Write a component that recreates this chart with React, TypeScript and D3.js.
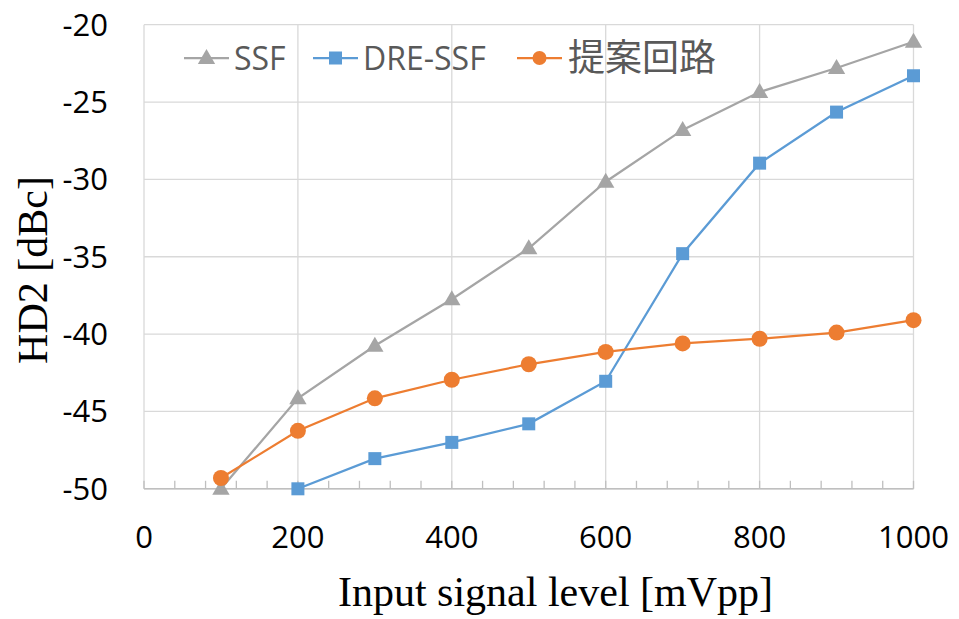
import React from "react";
import * as d3 from "d3";

const xValues = [100, 200, 300, 400, 500, 600, 700, 800, 900, 1000];
const ssf = [-50, -44.15, -40.75, -37.75, -34.45, -30.15, -26.8, -24.35, -22.8, -21.1];
const dreX = [200, 300, 400, 500, 600, 700, 800, 900, 1000];
const dreSsf = [-50, -48.05, -47.0, -45.8, -43.05, -34.8, -28.95, -25.65, -23.3];
const proposed = [-49.3, -46.25, -44.15, -42.95, -41.95, -41.15, -40.6, -40.3, -39.9, -39.1];
const xTicks = [0, 200, 400, 600, 800, 1000];
const yTicks = [-20, -25, -30, -35, -40, -45, -50];
const seriesNames = ["SSF", "DRE-SSF", "提案回路"];

const W = 959, H = 619;
const L = 144, R = 913.5, T = 24.7, B = 488.8;
const GRAY = "#A5A5A5", BLUE = "#5B9BD5", ORANGE = "#ED7D31";

export default function App() {
  const x = d3.scaleLinear().domain([0, 1000]).range([L, R]);
  const y = d3.scaleLinear().domain([-50, -20]).range([B, T]);
  const minor = d3.range(0, 1001, 40);
  const line = d3.line<[number, number]>().x(d => x(d[0])).y(d => y(d[1]));
  const ssfPts: [number, number][] = xValues.map((v, i) => [v, ssf[i]]);
  const drePts: [number, number][] = dreX.map((v, i) => [v, dreSsf[i]]);
  const propPts: [number, number][] = xValues.map((v, i) => [v, proposed[i]]);
  const tri = d3.symbol(d3.symbolTriangle, 130)();
  const sq = (cx: number, cy: number, c: string) => (
    <rect x={cx - 6.5} y={cy - 6.5} width={13} height={13} fill={c} />
  );
  const tickFont = "'Open Sans', sans-serif";
  const serif = "'Liberation Serif', 'DejaVu Serif', serif";
  return (
    <svg width={W} height={H} style={{ position: "absolute", left: 0, top: 0, background: "#fff" }}>
      {yTicks.map(t => (
        <line key={"gy" + t} x1={L} x2={R} y1={y(t)} y2={y(t)} stroke="#d9d9d9" strokeWidth={1.3} />
      ))}
      {xTicks.map(t => (
        <line key={"gx" + t} x1={x(t)} x2={x(t)} y1={T} y2={B} stroke="#d9d9d9" strokeWidth={1.3} />
      ))}
      {minor.map(t => (
        <line key={"m" + t} x1={x(t)} x2={x(t)} y1={B - 8} y2={B} stroke="#bfbfbf" strokeWidth={1.3} />
      ))}
      <line x1={L} x2={R} y1={B} y2={B} stroke="#bfbfbf" strokeWidth={1.5} />
      {yTicks.map(t => (
        <text key={"ly" + t} x={108} y={y(t) + 11} textAnchor="end" fontFamily={tickFont} fontSize={31} fill="#000">{t}</text>
      ))}
      {xTicks.map(t => (
        <text key={"lx" + t} x={x(t)} y={548} textAnchor="middle" fontFamily={tickFont} fontSize={31} fill="#000">{t}</text>
      ))}
      <text x={555.5} y={606} textAnchor="middle" fontFamily={serif} fontSize={42} fill="#000">Input signal level [mVpp]</text>
      <text transform="translate(47,270) rotate(-90)" textAnchor="middle" fontFamily={serif} fontSize={42} fill="#000">HD2 [dBc]</text>
      <path d={line(ssfPts) || ""} fill="none" stroke={GRAY} strokeWidth={2.25} />
      <path d={line(drePts) || ""} fill="none" stroke={BLUE} strokeWidth={2.25} />
      <path d={line(propPts) || ""} fill="none" stroke={ORANGE} strokeWidth={2.25} />
      {ssfPts.map((p, i) => (
        <path key={"t" + i} d={tri || ""} transform={`translate(${x(p[0])},${y(p[1]) + 1})`} fill={GRAY} />
      ))}
      {drePts.map((p, i) => <g key={"s" + i}>{sq(x(p[0]), y(p[1]), BLUE)}</g>)}
      {propPts.map((p, i) => (
        <circle key={"c" + i} cx={x(p[0])} cy={y(p[1])} r={8} fill={ORANGE} />
      ))}
      <g>
        <line x1={184} x2={229} y1={58} y2={58} stroke={GRAY} strokeWidth={2.25} />
        <path d={tri || ""} transform="translate(206.5,59)" fill={GRAY} />
        <text x={234} y={69.5} fontFamily={tickFont} fontSize={32} fill="#595959">{seriesNames[0]}</text>
        <line x1={313} x2={358} y1={58} y2={58} stroke={BLUE} strokeWidth={2.25} />
        {sq(335.5, 58, BLUE)}
        <text x={363} y={69.5} fontFamily={tickFont} fontSize={32} fill="#595959">{seriesNames[1]}</text>
        <line x1={517} x2={562} y1={58} y2={58} stroke={ORANGE} strokeWidth={2.25} />
        <circle cx={539.5} cy={58} r={7} fill={ORANGE} />
        <text x={568} y={71} fontFamily="'Noto Sans CJK JP', sans-serif" fontSize={37} fill="#595959">{seriesNames[2]}</text>
      </g>
    </svg>
  );
}
